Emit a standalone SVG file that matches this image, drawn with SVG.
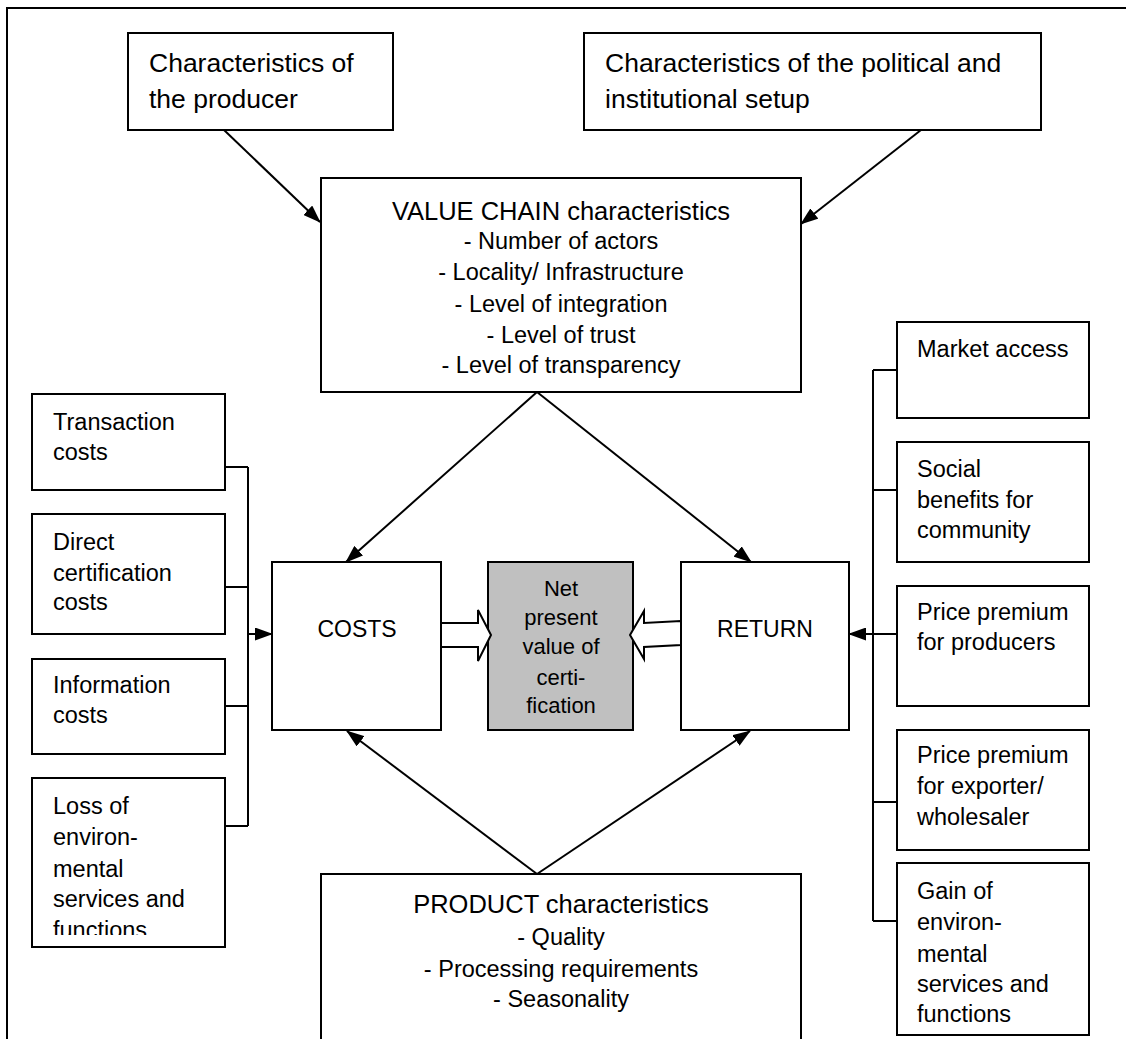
<svg xmlns="http://www.w3.org/2000/svg" width="1126" height="1039" viewBox="0 0 1126 1039">
<style>
text{font-family:"Liberation Sans",Arial,sans-serif;fill:#000}
.box{fill:#fff;stroke:#000;stroke-width:2}
.net{fill:#c0c0c0;stroke:#000;stroke-width:2}
.t26{font-size:26.5px}
.ttl{font-size:25.5px;text-anchor:middle}
.itm{font-size:23.5px;text-anchor:middle}
.sm{font-size:23.5px}
.nt{font-size:22px;text-anchor:middle}
.big{font-size:23px;text-anchor:middle}
.ln{fill:none;stroke:#000;stroke-width:2}
.hollow{fill:#fff;stroke:#000;stroke-width:2;stroke-linejoin:miter}
</style>
<defs>
<marker id="ah" viewBox="0 0 18 13" refX="17" refY="6.5" markerWidth="18" markerHeight="13" markerUnits="userSpaceOnUse" orient="auto">
<path d="M0,0 L18,6.5 L0,13 z" fill="#000"/>
</marker>
<clipPath id="lossclip"><rect x="32" y="778" width="193" height="157"/></clipPath>
</defs>
<rect width="1126" height="1039" fill="#fff"/>
<path id="frame" d="M7,1039 V8 H1126" class="ln"/>

<g id="producer">
<rect class="box" x="128" y="33" width="265" height="97"/>
<text class="t26" x="149" y="72">Characteristics of</text>
<text class="t26" x="149" y="108">the producer</text>
</g>

<g id="political">
<rect class="box" x="584" y="33" width="457" height="97"/>
<text class="t26" x="605" y="72">Characteristics of the political and</text>
<text class="t26" x="605" y="108">institutional setup</text>
</g>

<g id="valuechain">
<rect class="box" x="321" y="178" width="480" height="214"/>
<text class="ttl" x="561" y="220">VALUE CHAIN characteristics</text>
<text class="itm" x="561" y="249">- Number of actors</text>
<text class="itm" x="561" y="280">- Locality/ Infrastructure</text>
<text class="itm" x="561" y="312">- Level of integration</text>
<text class="itm" x="561" y="343">- Level of trust</text>
<text class="itm" x="561" y="373">- Level of transparency</text>
</g>

<g id="transaction">
<rect class="box" x="32" y="394" width="193" height="96"/>
<text class="sm" x="53" y="430">Transaction</text>
<text class="sm" x="53" y="460">costs</text>
</g>
<g id="direct">
<rect class="box" x="32" y="514" width="193" height="120"/>
<text class="sm" x="53" y="550">Direct</text>
<text class="sm" x="53" y="581">certification</text>
<text class="sm" x="53" y="610">costs</text>
</g>
<g id="information">
<rect class="box" x="32" y="659" width="193" height="95"/>
<text class="sm" x="53" y="693">Information</text>
<text class="sm" x="53" y="723">costs</text>
</g>
<g id="loss">
<rect class="box" x="32" y="778" width="193" height="169"/>
<g clip-path="url(#lossclip)">
<text class="sm" x="53" y="814">Loss of</text>
<text class="sm" x="53" y="845">environ-</text>
<text class="sm" x="53" y="877">mental</text>
<text class="sm" x="53" y="907">services and</text>
<text class="sm" x="53" y="938">functions</text>
</g>
</g>

<g id="costs">
<rect class="box" x="272" y="562" width="169" height="168"/>
<text class="big" x="357" y="637">COSTS</text>
</g>
<g id="npv">
<rect class="net" x="488" y="562" width="145" height="168"/>
<text class="nt" x="561" y="596">Net</text>
<text class="nt" x="561" y="625">present</text>
<text class="nt" x="561" y="654">value of</text>
<text class="nt" x="561" y="685">certi-</text>
<text class="nt" x="561" y="713">fication</text>
</g>
<g id="return">
<rect class="box" x="681" y="562" width="168" height="168"/>
<text class="big" x="765" y="637">RETURN</text>
</g>

<g id="market">
<rect class="box" x="897" y="322" width="192" height="96"/>
<text class="sm" x="917" y="357">Market access</text>
</g>
<g id="social">
<rect class="box" x="897" y="442" width="192" height="120"/>
<text class="sm" x="917" y="477">Social</text>
<text class="sm" x="917" y="508">benefits for</text>
<text class="sm" x="917" y="538">community</text>
</g>
<g id="premiumproducers">
<rect class="box" x="897" y="586" width="192" height="120"/>
<text class="sm" x="917" y="620">Price premium</text>
<text class="sm" x="917" y="650">for producers</text>
</g>
<g id="premiumexporter">
<rect class="box" x="897" y="730" width="192" height="120"/>
<text class="sm" x="917" y="763">Price premium</text>
<text class="sm" x="917" y="794">for exporter/</text>
<text class="sm" x="917" y="825">wholesaler</text>
</g>
<g id="gain">
<rect class="box" x="897" y="863" width="192" height="172"/>
<text class="sm" x="917" y="899">Gain of</text>
<text class="sm" x="917" y="930">environ-</text>
<text class="sm" x="917" y="962">mental</text>
<text class="sm" x="917" y="992">services and</text>
<text class="sm" x="917" y="1022">functions</text>
</g>

<g id="product">
<rect class="box" x="321" y="874" width="480" height="180"/>
<text class="ttl" x="561" y="913">PRODUCT characteristics</text>
<text class="itm" x="561" y="945">- Quality</text>
<text class="itm" x="561" y="977">- Processing requirements</text>
<text class="itm" x="561" y="1007">- Seasonality</text>
</g>

<g id="connectors">
<line class="ln" x1="224" y1="130" x2="320" y2="222" marker-end="url(#ah)"/>
<line class="ln" x1="921" y1="130" x2="801" y2="224" marker-end="url(#ah)"/>
<line class="ln" x1="537" y1="392" x2="346" y2="562" marker-end="url(#ah)"/>
<line class="ln" x1="537" y1="392" x2="751" y2="562" marker-end="url(#ah)"/>
<line class="ln" x1="537" y1="874" x2="347" y2="731" marker-end="url(#ah)"/>
<line class="ln" x1="537" y1="874" x2="750" y2="731" marker-end="url(#ah)"/>
<path class="ln" d="M225,467 H248 M225,587 H248 M225,706 H248 M225,826 H248 M248,467 V826"/>
<line class="ln" x1="248" y1="634" x2="272" y2="634" marker-end="url(#ah)"/>
<path class="ln" d="M897,370 H873 M897,490 H873 M897,802 H873 M897,921 H873 M873,370 V921"/>
<line class="ln" x1="897" y1="634" x2="849" y2="634" marker-end="url(#ah)"/>
<polygon class="hollow" points="441,623 478,623 478,610 491,635 478,661 478,647 441,647"/>
<polygon class="hollow" points="681,621 644,623 644,611 630,635 644,659 644,647 681,645"/>
</g>
</svg>
